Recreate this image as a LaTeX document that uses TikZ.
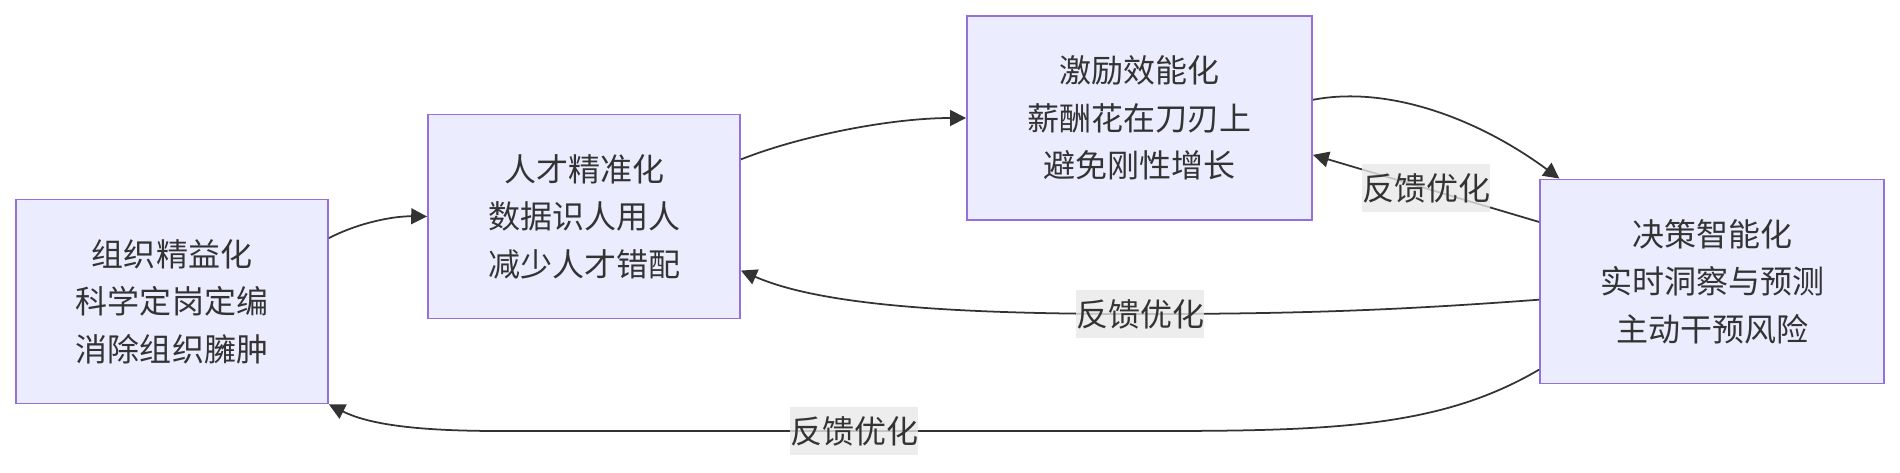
\documentclass[tikz,border=0pt]{standalone}
\usepackage{fontspec}
\newfontfamily\cjk{Noto Sans CJK SC}
\usetikzlibrary{arrows.meta}
\definecolor{boxfill}{HTML}{ECECFF}
\definecolor{boxline}{HTML}{9370DB}
\definecolor{ink}{HTML}{333333}
\definecolor{labelbg}{HTML}{E8E8E8}
\begin{document}
\begin{tikzpicture}[x=0.01cm, y=-0.01cm,
  every node/.style={font=\cjk\fontsize{9.1pt}{13.5pt}\selectfont, text=ink},
  stage/.style={draw=boxline, fill=boxfill, line width=0.5pt, align=center,
    minimum height=2.04cm, inner sep=0pt},
  fb/.style={fill=labelbg, fill opacity=0.8, text opacity=1, inner sep=0pt,
    minimum width=1.28cm, minimum height=0.48cm},
  flow/.style={draw=ink, line width=0.5pt, -{Triangle[length=4.5pt, width=4.5pt]}}]
  \useasboundingbox (0,0) rectangle (1900,472);
  % Stages
  \node[stage, minimum width=3.12cm] (orga) at (172,301.5) {组织精益化\\科学定岗定编\\消除组织臃肿};
  \node[stage, minimum width=3.12cm] (tal) at (584,216.5) {人才精准化\\数据识人用人\\减少人才错配};
  \node[stage, minimum width=3.45cm] (inc) at (1139.5,118) {激励效能化\\薪酬花在刀刃上\\避免刚性增长};
  \node[stage, minimum width=3.44cm] (dec) at (1712,281.5) {决策智能化\\实时洞察与预测\\主动干预风险};
  % Forward chain
  \draw[flow] (orga.22.8) .. controls (360,222) and (395,216) .. (tal.west);
  \draw[flow] (tal.20.2) .. controls (800,136) and (890,118) .. (inc.west);
  \draw[flow] (inc.6.6) .. controls (1390,85) and (1480,120) .. (dec.146.9);
  % Feedback loops
  \draw[flow] (dec.161.2) -- node[fb] {反馈优化} (inc.-12.7);
  \draw[flow] (dec.186.5) .. controls (1400,310) and (1300,314) .. (1140,314)
    node[fb] {反馈优化}
    .. controls (950,314) and (820,305) .. (tal.-19.6);
  \draw[flow] (dec.207.9) .. controls (1440,428) and (1330,431) .. (1150,431)
    -- (854,431) node[fb] {反馈优化}
    -- (500,431) .. controls (420,431) and (370,425) .. (orga.south east);
\end{tikzpicture}
\end{document}
